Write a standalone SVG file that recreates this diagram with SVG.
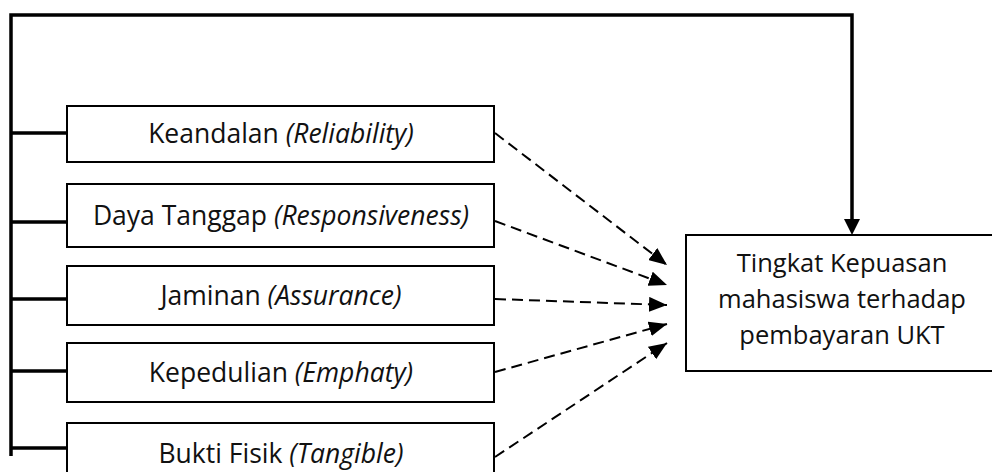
<svg xmlns="http://www.w3.org/2000/svg" width="992" height="472" viewBox="0 0 992 472">
<defs>
<marker id="ah" markerUnits="userSpaceOnUse" markerWidth="18" markerHeight="15" refX="18" refY="7.5" orient="auto">
<path d="M0,0 L18,7.5 L0,15 Z" fill="#000"/>
</marker>
</defs>
<style>
.box{fill:#fff;stroke:#000;stroke-width:2}
.t{font-family:"Open Sans","Noto Sans",sans-serif;font-size:26.5px;fill:#111;text-anchor:middle}
.r{font-size:25.5px}
.i{font-style:italic}
.thick{fill:none;stroke:#000;stroke-width:3.5}
.dash{fill:none;stroke:#000;stroke-width:2;stroke-dasharray:11 6}
</style>
<g id="connectors">
<path class="thick" d="M11,456 L11,15 L852,15 L852,222"/>
<path d="M844,219 L860,219 L852,235 Z" fill="#000"/>
<path class="thick" d="M11,133 H67 M11,222 H67 M11,299 H67 M11,371 H67 M11,448 H67"/>
<line class="dash" x1="495" y1="133" x2="667" y2="265" marker-end="url(#ah)"/>
<line class="dash" x1="495" y1="221" x2="667" y2="285" marker-end="url(#ah)"/>
<line class="dash" x1="495" y1="299" x2="667" y2="305" marker-end="url(#ah)"/>
<line class="dash" x1="495" y1="372" x2="667" y2="324" marker-end="url(#ah)"/>
<line class="dash" x1="495" y1="457" x2="667" y2="343" marker-end="url(#ah)"/>
</g>
<g id="keandalan">
<rect class="box" x="67" y="106" width="427" height="56"/>
<text class="t" x="281" y="143">Keandalan <tspan class="i">(Reliability)</tspan></text>
</g>
<g id="daya-tanggap">
<rect class="box" x="67" y="184" width="427" height="63"/>
<text class="t" x="281" y="225">Daya Tanggap <tspan class="i">(Responsiveness)</tspan></text>
</g>
<g id="jaminan">
<rect class="box" x="67" y="266" width="427" height="59"/>
<text class="t" x="281" y="305">Jaminan <tspan class="i">(Assurance)</tspan></text>
</g>
<g id="kepedulian">
<rect class="box" x="67" y="343" width="427" height="59"/>
<text class="t" x="281" y="382">Kepedulian <tspan class="i">(Emphaty)</tspan></text>
</g>
<g id="bukti-fisik">
<rect class="box" x="67" y="423" width="427" height="60"/>
<text class="t" x="281" y="463">Bukti Fisik <tspan class="i">(Tangible)</tspan></text>
</g>
<g id="kepuasan">
<rect class="box" x="686" y="235" width="320" height="136"/>
<text class="t r" x="842" y="272">Tingkat Kepuasan</text>
<text class="t r" x="842" y="308">mahasiswa terhadap</text>
<text class="t r" x="842" y="344">pembayaran UKT</text>
</g>
</svg>
